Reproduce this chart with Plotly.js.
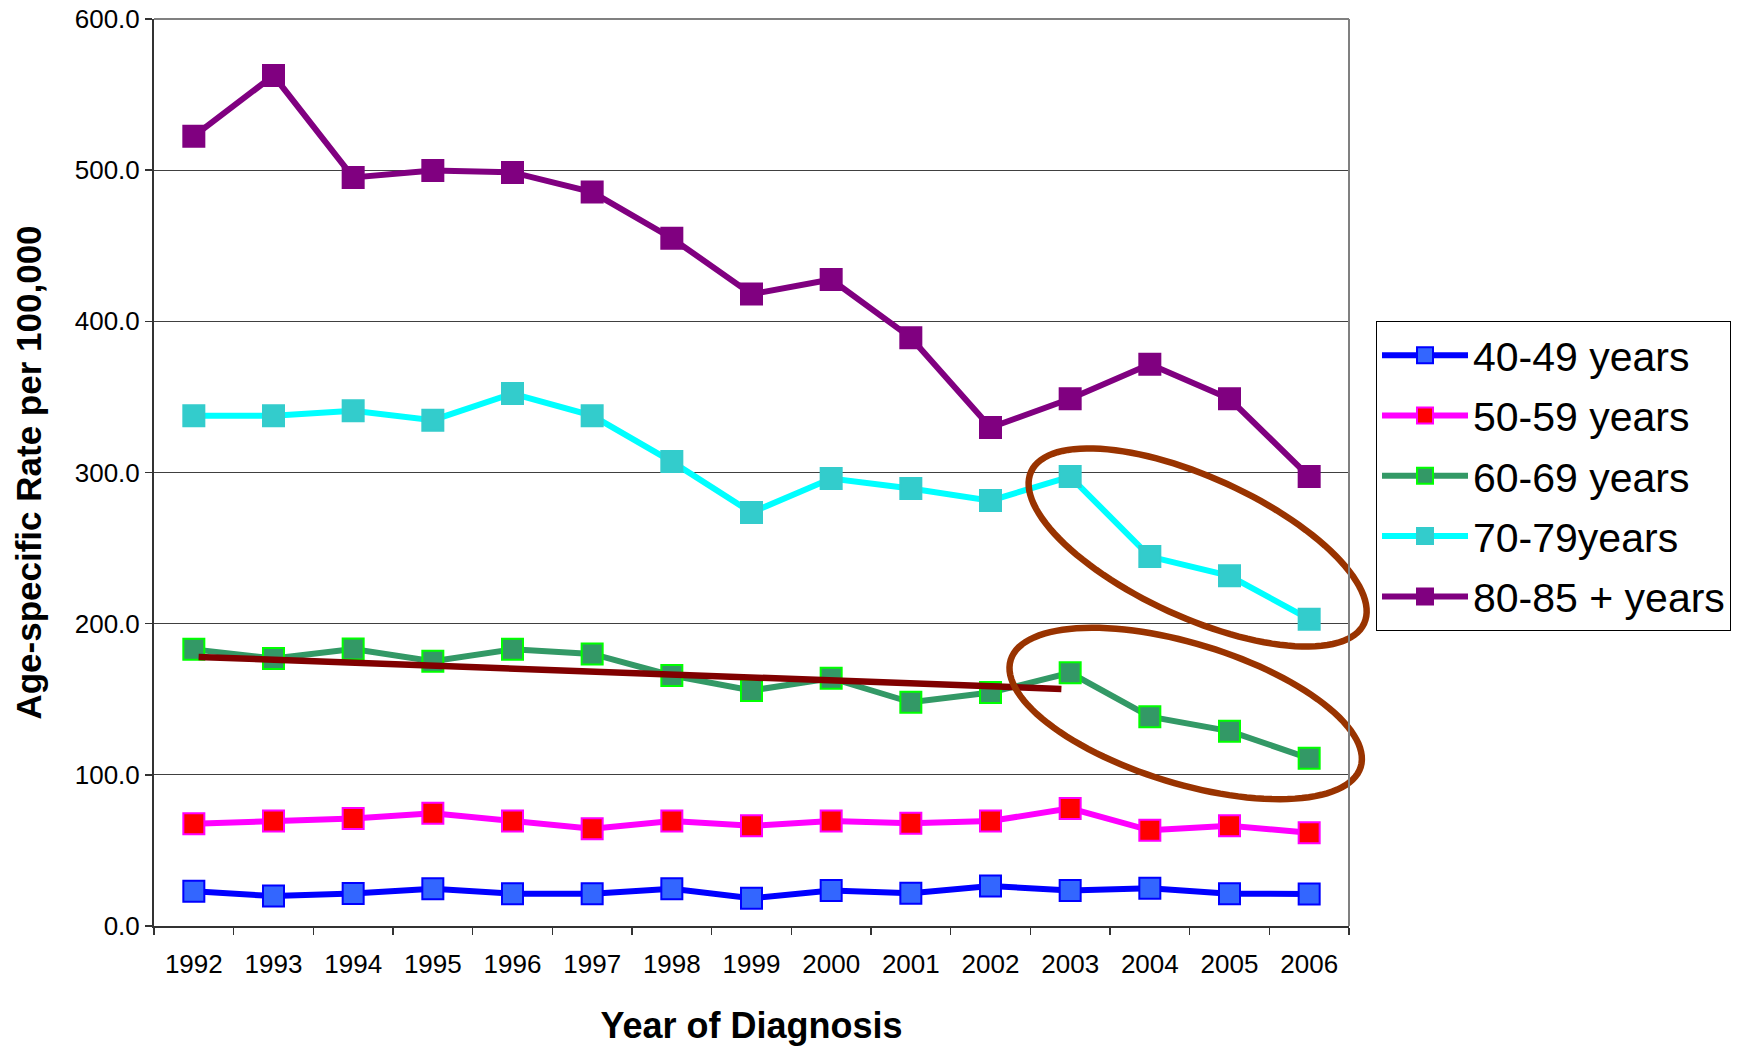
<!DOCTYPE html>
<html><head><meta charset="utf-8">
<script src="https://cdn.plot.ly/plotly-3.0.1.min.js"></script>
<style>html,body{margin:0;padding:0;background:#fff}</style>
</head><body><div id="chart" style="width:1744px;height:1048px"></div>
<script>
// ---- data ----
const years = [1992,1993,1994,1995,1996,1997,1998,1999,2000,2001,2002,2003,2004,2005,2006];
const seriesNames = ["40-49 years","50-59 years","60-69 years","70-79years","80-85 + years"];
const rate40_49 = [23.0,19.8,21.5,24.6,21.4,21.4,24.6,18.4,23.5,21.6,26.5,23.5,24.9,21.4,21.2];
const rate50_59 = [67.7,69.5,71.1,74.6,69.5,64.4,69.5,66.3,69.5,67.9,69.5,77.8,63.3,66.3,61.7];
const rate60_69 = [183.0,177.0,183.2,175.1,183.0,180.0,165.7,155.8,163.9,148.0,154.4,167.5,138.5,128.9,110.9];
const rate70_79 = [337.6,337.6,340.9,334.6,352.2,337.6,307.2,273.5,296.0,289.4,281.4,297.3,244.4,231.7,203.0];
const rate80_85 = [522.5,562.6,495.2,499.8,498.5,485.5,455.0,418.0,427.7,389.2,329.7,348.8,371.6,348.8,297.3];
const trendYears = [1992.06, 2002.89];
const trendValues = [178.0, 156.8];
const yTickVals = [0,100,200,300,400,500,600];
// highlight ellipses (centre in data units, semi-axes in px, tilt in degrees)
const ellipseYears = [2004.6, 2004.45];
const ellipseValues = [250.4, 140.6];
const ellipseA = [183, 183];
const ellipseB = [70, 70];
const ellipseTilt = [24.5, 17];

// ---- layout geometry ----
const W = 1744, H = 1048;
const M = {l:154, r:395, t:19, b:122};
const xRange = [1991.5, 2006.5], yRange = [0, 600];
const plotW = W - M.l - M.r, plotH = H - M.t - M.b;

// ellipse outline in paper coordinates (so it is not clipped by the plot area)
function ellipsePath(cx, cy, a, b, deg) {
  const t = deg * Math.PI / 180, pts = [];
  const px0 = (cx - xRange[0]) / (xRange[1] - xRange[0]);
  const py0 = (cy - yRange[0]) / (yRange[1] - yRange[0]);
  for (let i = 0; i <= 120; i++) {
    const u = i / 120 * 2 * Math.PI;
    const dx = a*Math.cos(u)*Math.cos(t) - b*Math.sin(u)*Math.sin(t);
    const dy = a*Math.cos(u)*Math.sin(t) + b*Math.sin(u)*Math.cos(t);
    pts.push((px0 + dx/plotW).toFixed(5) + ',' + (py0 - dy/plotH).toFixed(5));
  }
  return 'M' + pts.join('L') + 'Z';
}

const styles = [
  {line:'#0000FF', fill:'#3366FF', border:'#0000FF'},
  {line:'#FF00FF', fill:'#FF0000', border:'#FF00FF'},
  {line:'#339966', fill:'#339966', border:'#00FF00'},
  {line:'#00FFFF', fill:'#33CCCC', border:'#33CCCC'},
  {line:'#800080', fill:'#800080', border:'#800080'}
];
const values = [rate40_49, rate50_59, rate60_69, rate70_79, rate80_85];

const traces = values.map((v, i) => ({
  type:'scatter', mode:'lines+markers', x: years, y: v, name: seriesNames[i],
  legendgroup: 'g'+i,
  line:{color: styles[i].line, width: 6},
  marker:{symbol:'square', size: 21, color: styles[i].fill, line:{color: styles[i].border, width: 2}}
}));
traces.push({
  type:'scatter', mode:'lines', x: trendYears, y: trendValues, showlegend:false,
  line:{color:'#800000', width:6.5}, hoverinfo:'skip'
});

const shapes = ellipseYears.map((cx, i) => ({
  type:'path', xref:'paper', yref:'paper', path: ellipsePath(cx, ellipseValues[i], ellipseA[i], ellipseB[i], ellipseTilt[i]),
  line:{color:'#993300', width:6.5}, layer:'above'
}));
shapes.push({type:'line', xref:'paper', yref:'paper', x0:0, x1:1, y0:1, y1:1, line:{color:'#808080', width:2}});
shapes.push({type:'line', xref:'paper', yref:'paper', x0:1, x1:1, y0:0, y1:1, line:{color:'#808080', width:2}});

const font = 'Liberation Sans, Arial, sans-serif';
const layout = {
  width: W, height: H, margin: M,
  paper_bgcolor:'#fff', plot_bgcolor:'#fff',
  font:{family: font, color:'#000'},
  showlegend: true,
  legend:{x:1.0226, xanchor:'left', y:0.667, yanchor:'top', bordercolor:'#000', borderwidth:1,
          bgcolor:'#fff', font:{family: font, size:41, color:'#000'}, tracegroupgap: 4, itemwidth: 86},
  xaxis:{type:'linear', range: xRange, tickmode:'array', tickvals: years, ticktext: years.map(String),
         ticks:'', showgrid:false, zeroline:false, showline:true, linecolor:'#333', linewidth:2,
         tickfont:{family: font, size:26, color:'#000'}, ticklabelstandoff: 14,
         minor:{tick0:1991.5, dtick:1, ticks:'outside', ticklen:7, tickwidth:1.5, tickcolor:'#333', showgrid:false},
         title:{text:'<b>Year of Diagnosis</b>', font:{family: font, size:36, color:'#000'}, standoff: 35},
         fixedrange:true},
  yaxis:{range: yRange, tickmode:'array', tickvals: yTickVals, tickformat:'.1f',
         ticks:'outside', ticklen:7, tickwidth:1.5, tickcolor:'#333',
         showgrid:true, gridcolor:'#404040', gridwidth:1, zeroline:false,
         showline:true, linecolor:'#333', linewidth:2,
         tickfont:{family: font, size:26, color:'#000'},
         title:{text:'<b>Age-specific Rate per 100,000</b>', font:{family: font, size:35, color:'#000'}, standoff: 22},
         fixedrange:true},
  shapes: shapes
};
Plotly.newPlot('chart', traces, layout, {displayModeBar:false, staticPlot:true});
</script>
</body></html>
